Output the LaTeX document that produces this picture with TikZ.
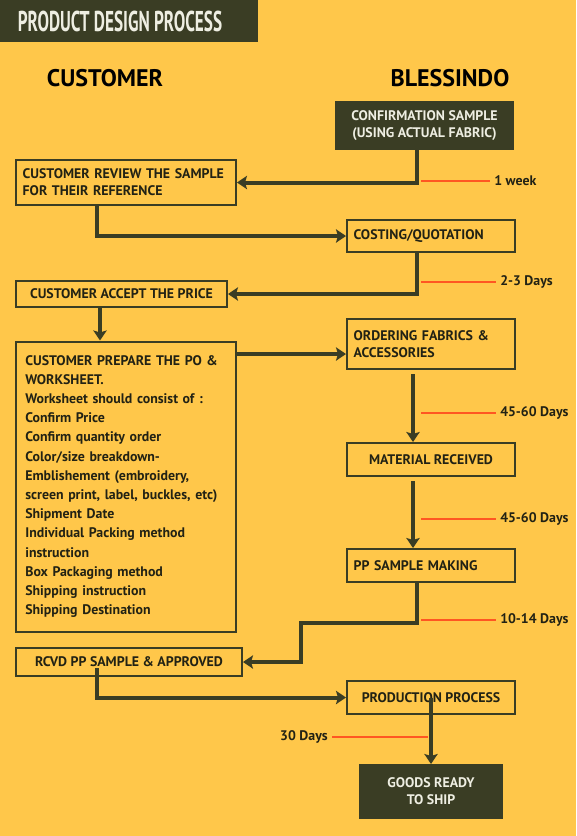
\documentclass[tikz,border=0pt]{standalone}
\usepackage{fontspec}
\setmainfont{PT Sans}
\usepackage{graphicx}
\usetikzlibrary{
  positioning,
  arrows.meta,
  calc
}
\definecolor{BgYellow}{RGB}{255,199,74}
\definecolor{DarkOlive}{RGB}{58,61,36}
\definecolor{TickRed}{RGB}{255,86,34}
\definecolor{InkDark}{RGB}{34,34,20}
\definecolor{PaleText}{RGB}{238,238,226}

\begin{document}
\begin{tikzpicture}[
  x=0.75pt, y=-0.75pt,
  stage/.style={
    draw=DarkOlive,
    line width=1.5pt,
    text=InkDark,
    inner xsep=5pt,
    inner ysep=2pt,
    minimum width=126pt,
    minimum height=24.75pt,
    font=\bfseries\fontsize{10.4}{12.75}\selectfont
  },
  darkstage/.style={
    stage,
    fill=DarkOlive,
    text=PaleText,
    align=center
  },
  head/.style={font=\bfseries\fontsize{18}{20}\selectfont, text=black},
  dur/.style={font=\bfseries\fontsize{10.4}{12}\selectfont, text=InkDark, inner xsep=3pt},
  arr/.style={-{Stealth[length=7.5pt,width=10pt,inset=1.5pt]}, line width=3pt, DarkOlive},
  tick/.style={TickRed, line width=2.2pt},
]
  % ========== 底色与标题栏 ==========
  \fill[BgYellow] (0,0) rectangle (576,836);
  \fill[DarkOlive] (0,0) rectangle (258,42);
  \node[font=\bfseries\fontsize{21.5}{22}\selectfont, text=PaleText] (title) at (120,21)
    {\scalebox{0.6}[1]{PRODUCT DESIGN PROCESS}};
  \node[head] (hcust) at (105,78) {CUSTOMER};
  \node[head] (hbless) at (450,78) {BLESSINDO};

  % ========== 右列：Blessindo ==========
  \node[darkstage, minimum width=132.75pt, minimum height=35.25pt] (conf) at (424.5,125.5)
    {CONFIRMATION SAMPLE\\(USING ACTUAL FABRIC)};
  \node[stage, minimum height=24pt, text width=116pt, align=left] (costing) at (431,236)
    {COSTING/QUOTATION};
  \node[stage, minimum height=37.5pt, text width=116pt, align=left] (ordering) at (431,344)
    {ORDERING FABRICS \&\\ACCESSORIES};
  \node[stage, align=center] (material) at (431,459.5)
    {MATERIAL RECEIVED};
  \node[stage, text width=116pt, align=left] (ppmake) at (431,565.5)
    {PP SAMPLE MAKING};
  \node[stage, align=center] (production) at (431,697.5)
    {PRODUCTION PROCESS};
  \node[darkstage, minimum width=106.5pt, minimum height=39.75pt] (goods) at (431,791.5)
    {GOODS READY\\TO SHIP};

  % ========== 左列：Customer ==========
  \node[stage, minimum width=165pt, minimum height=33.75pt, text width=155pt, align=left] (review) at (126,182.5)
    {CUSTOMER REVIEW THE SAMPLE\\FOR THEIR REFERENCE};
  \node[stage, minimum width=158.25pt, minimum height=19.5pt, align=center] (accept) at (121.5,294)
    {CUSTOMER ACCEPT THE PRICE};
  \node[stage, minimum width=165pt, minimum height=217.5pt, inner xsep=7pt, text width=151pt, align=left,
    font=\bfseries\fontsize{10.4}{14.4}\selectfont] (worksheet) at (126,486.5)
    {CUSTOMER PREPARE THE PO \&\\
     WORKSHEET.\\
     Worksheet should consist of :\\
     Confirm Price\\
     Confirm quantity order\\
     Color/size breakdown-\\
     Emblishement (embroidery,\\
     screen print, label, buckles, etc)\\
     Shipment Date\\
     Individual Packing method\\
     instruction\\
     Box Packaging method\\
     Shipping instruction\\
     Shipping Destination};
  \node[stage, minimum width=169.5pt, minimum height=21pt, align=center] (rcvd) at (129,662)
    {RCVD PP SAMPLE \& APPROVED};

  % ========== 连线 ==========
  \coordinate (Rx) at (417,0);   % 右列下行竖线
  \coordinate (Mx) at (413,0);   % 右列直连箭头
  \coordinate (Lx) at (97,0);    % 左列下行竖线
  \coordinate (Ax) at (100,0);
  \coordinate (Wy) at (0,354);   % worksheet → ordering 水平线
  \coordinate (Jx) at (301,623); % pp sample 折角
  \coordinate (Rs) at (97,668);  % rcvd 内部起点
  \draw[arr] (conf.south-|Rx) |- (review.east);
  \draw[arr] (review.south-|Lx) |- (costing.west);
  \draw[arr] (costing.south-|Rx) |- (accept.east);
  \draw[arr] (accept.south-|Ax) -- (worksheet.north-|Ax);
  \draw[arr] (worksheet.east|-Wy) -- (ordering.west|-Wy);
  \draw[arr] ([yshift=-3pt]ordering.south-|Mx) -- (material.north-|Mx);
  \draw[arr] ([yshift=-3pt]material.south-|Mx) -- (ppmake.north-|Mx);
  \draw[arr] (ppmake.south-|Rx) |- (Jx) |- (rcvd.east);
  \draw[arr] (Rs) |- (production.west);
  \draw[arr] (production.center) -- (goods.north);

  % ========== 周期标注 ==========
  \foreach \y/\x/\t [count=\i] in {181/490/1 week, 282/496/2-3 Days, 413/496/45-60 Days,
      519/496/45-60 Days, 620/496/10-14 Days} {
    \node[dur, anchor=west] (d\i) at (\x,\y) {\t};
    \coordinate (t\i) at (421,\y);
    \draw[tick] (t\i) -- (d\i.west);
  }
  \node[dur, anchor=east] (d6) at (332,737) {30 Days};
  \coordinate (t6) at (428,737);
  \draw[tick] (d6.east) -- (t6);
\end{tikzpicture}
\end{document}
